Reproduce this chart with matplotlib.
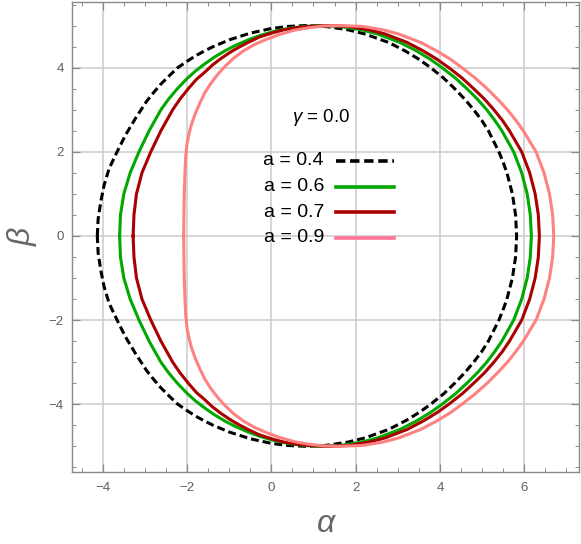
import matplotlib
matplotlib.use("Agg")
import matplotlib.pyplot as plt
from matplotlib.ticker import MultipleLocator, FuncFormatter
import numpy as np

plt.rcParams['font.family'] = ['Liberation Sans', 'DejaVu Sans']
plt.rcParams['mathtext.fontset'] = 'custom'
plt.rcParams['mathtext.it'] = 'Liberation Sans:italic'
plt.rcParams['mathtext.rm'] = 'Liberation Sans'

# upper half of each shadow (alpha, beta);
# the lower half is its mirror image (beta -> -beta)
alpha_04 = [-4.13, -4.11, -4.05, -3.97, -3.85, -3.66, -3.46, -3.22, -2.96, -2.80, -2.63, -2.43, -2.22,
            -2.00, -1.80, -1.60, -1.40, -1.00, -0.50, 0.00, 0.40, 0.82,
            1.27, 1.815, 2.22, 2.78, 3.17, 3.50, 3.78, 4.09, 4.35, 4.59, 4.80, 4.99, 5.15, 5.40,
            5.50, 5.59, 5.72, 5.795, 5.82]
beta_04 = [0.00, 0.40, 0.80, 1.20, 1.60, 2.00, 2.40, 2.80, 3.20, 3.40, 3.60, 3.80, 4.00,
           4.15, 4.28, 4.39, 4.49, 4.66, 4.82, 4.93, 4.98, 5.00,
           4.98, 4.90, 4.80, 4.60, 4.40, 4.20, 4.00, 3.75, 3.50, 3.25, 3.00, 2.75, 2.50, 2.00,
           1.75, 1.50, 1.00, 0.50, 0.00]

alpha_06 = [-3.60, -3.58, -3.50, -3.35, -3.14, -2.90, -2.62, -2.44, -2.23, -2.00, -1.80, -1.58,
            -1.35, -1.10, -0.85, -0.55, -0.25, 0.10, 0.45, 0.80, 1.17,
            1.62, 2.14, 2.52, 3.05, 3.44, 3.77, 4.05, 4.37, 4.64, 4.89, 5.11, 5.30, 5.47, 5.75,
            5.94, 6.07, 6.145, 6.17]
beta_06 = [0.00, 0.50, 1.00, 1.50, 2.00, 2.50, 3.00, 3.25, 3.50, 3.74, 3.92, 4.09,
           4.25, 4.40, 4.53, 4.66, 4.77, 4.87, 4.94, 4.98, 5.00,
           4.98, 4.90, 4.80, 4.60, 4.40, 4.20, 4.00, 3.75, 3.50, 3.25, 3.00, 2.75, 2.50, 2.00,
           1.50, 1.00, 0.50, 0.00]

alpha_07 = [-3.28, -3.26, -3.20, -3.07, -2.86, -2.62, -2.34, -2.17, -1.97, -1.78, -1.57, -1.40,
            -1.22, -1.00, -0.80, -0.55, -0.30, 0.00, 0.30, 0.60, 0.90, 1.36,
            1.81, 2.32, 2.70, 3.22, 3.60, 3.93, 4.21, 4.53, 4.80, 5.06, 5.28, 5.48, 5.65, 5.94,
            6.13, 6.26, 6.335, 6.36]
beta_07 = [0.00, 0.50, 1.00, 1.50, 2.00, 2.50, 3.00, 3.25, 3.50, 3.72, 3.90, 4.06,
           4.20, 4.35, 4.47, 4.60, 4.72, 4.82, 4.90, 4.95, 4.98, 5.00,
           4.98, 4.90, 4.80, 4.60, 4.40, 4.20, 4.00, 3.75, 3.50, 3.25, 3.00, 2.75, 2.50, 2.00,
           1.50, 1.00, 0.50, 0.00]

alpha_09 = [-2.08, -2.075, -2.065, -2.05, -2.03, -2.00, -1.95, -1.88, -1.80, -1.70, -1.58, -1.44,
            -1.28, -1.10, -0.90, -0.66, -0.40, -0.10, 0.20, 0.55, 0.90, 1.25, 1.60,
            2.15, 2.65, 3.02, 3.54, 3.92, 4.25, 4.52, 4.84, 5.12, 5.37, 5.60, 5.80, 5.98, 6.28,
            6.47, 6.60, 6.675, 6.70]
beta_09 = [0.00, 0.50, 1.00, 1.50, 1.90, 2.20, 2.45, 2.70, 2.92, 3.15, 3.40, 3.62,
           3.83, 4.03, 4.22, 4.40, 4.55, 4.68, 4.79, 4.89, 4.95, 4.99, 5.00,
           4.98, 4.90, 4.80, 4.60, 4.40, 4.20, 4.00, 3.75, 3.50, 3.25, 3.00, 2.75, 2.50, 2.00,
           1.50, 1.00, 0.50, 0.00]

labels = ["a = 0.4", "a = 0.6", "a = 0.7", "a = 0.9"]
curve_colors = ["black", "#00a800", "#aa0000", "#ff8282"]
legend_colors = ["black", "#00a800", "#aa0000", "#ff7398"]
styles = [(0, (2.6, 1.3)), "-", "-", "-"]
gamma_text = r"$\gamma$ = 0.0"

xticks = [-4, -2, 0, 2, 4, 6]
yticks = [-4, -2, 0, 2, 4]

fig = plt.figure(figsize=(5.81, 5.44), dpi=100)
ax = fig.add_axes([72/581, 1 - 472/544, 507/581, 470/544])

series = [(alpha_04, beta_04), (alpha_06, beta_06), (alpha_07, beta_07), (alpha_09, beta_09)]
for (al, be), c, ls in zip(series, curve_colors, styles):
    al = np.array(al); be = np.array(be)
    full_a = np.concatenate([al, al[::-1][1:]])
    full_b = np.concatenate([be, -be[::-1][1:]])
    ax.plot(full_a, full_b, color=c, lw=2.2, ls=ls, solid_joinstyle='round', zorder=3)

ax.set_xlim(-4.73, 7.30)
ax.set_ylim(-5.61, 5.56)
ax.set_xticks(xticks)
ax.set_yticks(yticks)
ax.xaxis.set_minor_locator(MultipleLocator(0.5))
ax.yaxis.set_minor_locator(MultipleLocator(0.5))
fmt = FuncFormatter(lambda v, p: f"{int(round(v))}".replace("-", "\u2212"))
ax.xaxis.set_major_formatter(fmt)
ax.yaxis.set_major_formatter(fmt)
ax.grid(True, which='major', color='#cccccc', lw=1.1, zorder=0)
ax.tick_params(which='both', direction='in', top=True, right=True, colors='#8a8a8a',
               labelcolor='#5f5f5f', labelsize=9.5)
ax.tick_params(which='major', length=5.5, width=0.9)
ax.tick_params(which='minor', length=3, width=0.7)
for s in ax.spines.values():
    s.set_color('#8a8a8a'); s.set_linewidth(1.0)
ax.tick_params(axis='x', pad=7)
ax.tick_params(axis='y', pad=6)

fig.text(327/581, 1 - 524/544, r"$\alpha$", fontsize=23, color='#666666', ha='center', va='center')
fig.text(22/581, 1 - 236/544, r"$\beta$", fontsize=23, color='#666666', ha='center', va='center',
         rotation=90)

# legend
ax.text(0.492, 0.755, gamma_text, transform=ax.transAxes, ha='center', va='center', fontsize=13.5)
ys = [0.662, 0.607, 0.553, 0.498]
for lab, c, ls, y in zip(labels, legend_colors, styles, ys):
    ax.text(0.497, y, lab, transform=ax.transAxes, ha='right', va='center', fontsize=14)
    ax.plot([0.521, 0.635], [y, y], transform=ax.transAxes, color=c, lw=2.6, ls=ls, zorder=4)

fig.savefig("out.png", dpi=100)
